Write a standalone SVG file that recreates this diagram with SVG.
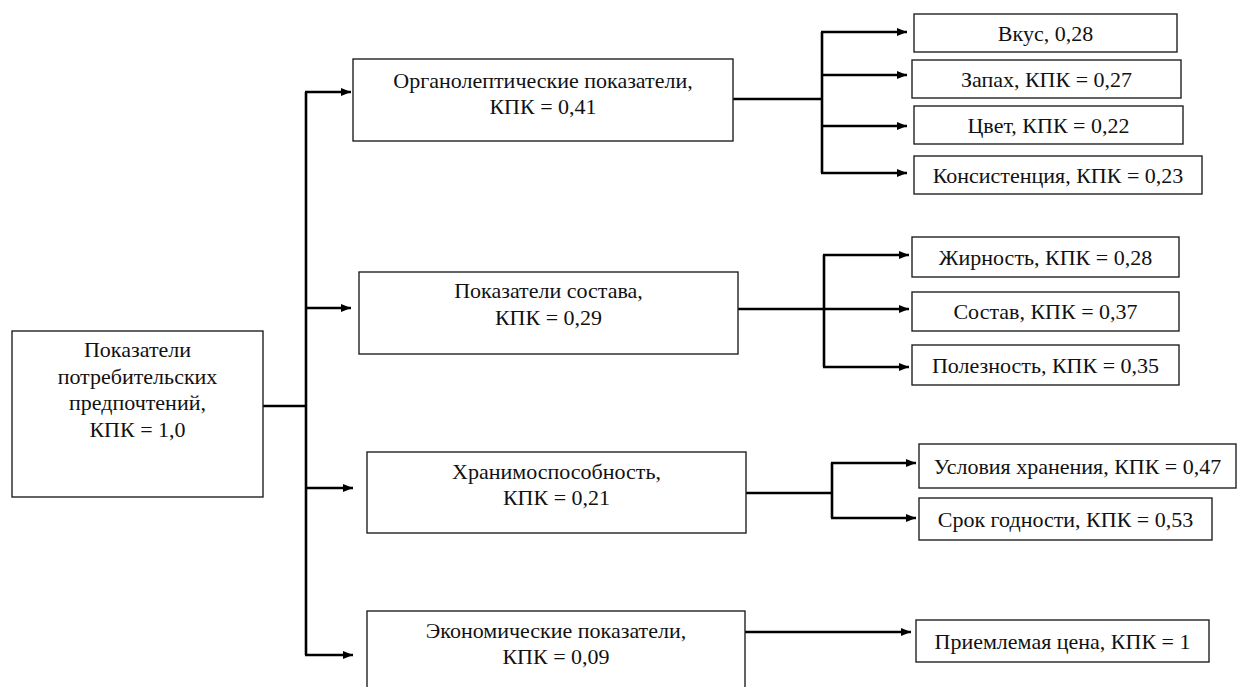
<svg xmlns="http://www.w3.org/2000/svg" width="1239" height="687" viewBox="0 0 1239 687">
<style>
.box{fill:#fff;stroke:#222;stroke-width:1.4}
.t{font-family:'Liberation Serif','Times New Roman',serif;font-size:22px;fill:#111;text-anchor:middle}
.c{fill:none;stroke:#000;stroke-width:2.6}
.a{marker-end:url(#arr)}
</style>
<defs>
<marker id="arr" markerUnits="userSpaceOnUse" markerWidth="12" markerHeight="10" refX="10" refY="5" orient="auto">
<path d="M0,1 L10,5 L0,9 z" fill="#000"/>
</marker>
</defs>
<rect width="1239" height="687" fill="#fff"/>
<g id="connectors">
<path class="c" d="M263,406 H306"/>
<path class="c" d="M306,92 V655"/>
<path class="c a" d="M305,92 H351"/>
<path class="c a" d="M305,308 H351"/>
<path class="c a" d="M305,488 H353"/>
<path class="c a" d="M305,655 H353"/>
<path class="c" d="M733,99 H822"/>
<path class="c" d="M822,32 V173"/>
<path class="c a" d="M821,32 H907"/>
<path class="c a" d="M821,75 H907"/>
<path class="c a" d="M821,126 H907"/>
<path class="c a" d="M821,173 H907"/>
<path class="c" d="M736,309 H824"/>
<path class="c" d="M824,255 V367"/>
<path class="c a" d="M823,255 H909"/>
<path class="c a" d="M823,309 H909"/>
<path class="c a" d="M823,367 H909"/>
<path class="c" d="M746,493 H832"/>
<path class="c" d="M832,463 V518"/>
<path class="c a" d="M831,463 H916"/>
<path class="c a" d="M831,518 H916"/>
<path class="c a" d="M745,632 H911"/>
</g>
<g id="root">
<rect class="box" x="12" y="331" width="251" height="166"/>
<text class="t" x="137.5" y="357">Показатели</text>
<text class="t" x="137.5" y="383.5">потребительских</text>
<text class="t" x="137.5" y="410">предпочтений,</text>
<text class="t" x="137.5" y="436.5">КПК = 1,0</text>
</g>
<g id="organoleptic">
<rect class="box" x="353" y="59" width="380" height="82"/>
<text class="t" x="543" y="88">Органолептические показатели,</text>
<text class="t" x="543" y="114">КПК = 0,41</text>
</g>
<g id="composition">
<rect class="box" x="359" y="272" width="379" height="82"/>
<text class="t" x="548.5" y="298">Показатели состава,</text>
<text class="t" x="548.5" y="325">КПК = 0,29</text>
</g>
<g id="storability">
<rect class="box" x="367" y="452" width="379" height="81"/>
<text class="t" x="556.5" y="479">Хранимоспособность,</text>
<text class="t" x="556.5" y="505">КПК = 0,21</text>
</g>
<g id="economic">
<rect class="box" x="367" y="611" width="378" height="100"/>
<text class="t" x="556" y="638">Экономические показатели,</text>
<text class="t" x="556" y="664">КПК = 0,09</text>
</g>
<g id="taste">
<rect class="box" x="914" y="14" width="263" height="38"/>
<text class="t" x="1045.5" y="41">Вкус, 0,28</text>
</g>
<g id="smell">
<rect class="box" x="912" y="60" width="269" height="38"/>
<text class="t" x="1046.5" y="87">Запах, КПК = 0,27</text>
</g>
<g id="color">
<rect class="box" x="914" y="106" width="269" height="38"/>
<text class="t" x="1048.5" y="133">Цвет, КПК = 0,22</text>
</g>
<g id="consistency">
<rect class="box" x="914" y="156" width="288" height="38"/>
<text class="t" x="1058" y="183">Консистенция, КПК = 0,23</text>
</g>
<g id="fat">
<rect class="box" x="912" y="237" width="267" height="40"/>
<text class="t" x="1045.5" y="265">Жирность, КПК = 0,28</text>
</g>
<g id="content">
<rect class="box" x="912" y="292" width="267" height="39"/>
<text class="t" x="1045.5" y="319">Состав, КПК = 0,37</text>
</g>
<g id="usefulness">
<rect class="box" x="912" y="345" width="267" height="40"/>
<text class="t" x="1045.5" y="373">Полезность, КПК = 0,35</text>
</g>
<g id="storage">
<rect class="box" x="919" y="444" width="317" height="44"/>
<text class="t" x="1077.5" y="474">Условия хранения, КПК = 0,47</text>
</g>
<g id="shelflife">
<rect class="box" x="919" y="498" width="293" height="42"/>
<text class="t" x="1065.5" y="527">Срок годности, КПК = 0,53</text>
</g>
<g id="price">
<rect class="box" x="916" y="620" width="293" height="42"/>
<text class="t" x="1062.5" y="649">Приемлемая цена, КПК = 1</text>
</g>
</svg>
